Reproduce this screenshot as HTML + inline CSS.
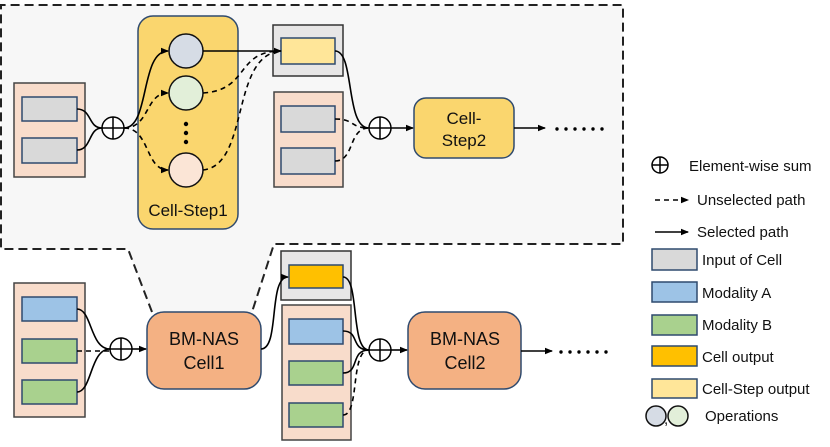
<!DOCTYPE html>
<html><head><meta charset="utf-8"><style>
html,body{margin:0;padding:0;background:#fff;}
svg{display:block;}
text{font-family:"Liberation Sans",sans-serif;fill:#111;}
</style></head><body>
<svg width="830" height="447" viewBox="0 0 830 447" xmlns="http://www.w3.org/2000/svg">
<defs>
<marker id="a" markerWidth="8" markerHeight="8" refX="7" refY="4" orient="auto" markerUnits="userSpaceOnUse">
<path d="M0,0.8 L8,4 L0,7.2 z" fill="#000"/></marker>
</defs>
<polygon points="1,5 623,5 623,244 274,244 252,312 152,312 128,249 1,249" fill="#f7f7f7" stroke="none"/>
<polyline points="152,312 128,249 1,249 1,5 623,5 623,244 274,244 252,312" fill="none" stroke="#222" stroke-width="2" stroke-dasharray="9,5"/>

<g stroke-width="1.5">
<rect x="14" y="83" width="71" height="94" fill="#f8dccb" stroke="#444"/>
<rect x="22" y="97" width="55" height="24" fill="#d9d9d9" stroke="#2f4a6e"/>
<rect x="22" y="138" width="55" height="25" fill="#d9d9d9" stroke="#2f4a6e"/>
<rect x="138" y="16" width="100" height="213" rx="15" fill="#fad66e" stroke="#2f4a6e"/>
<circle cx="186" cy="51" r="17" fill="#d6dce5" stroke="#111"/>
<circle cx="186" cy="93" r="17" fill="#e2efd9" stroke="#111"/>
<circle cx="186" cy="170" r="17" fill="#fbe5d6" stroke="#111"/>
<rect x="273" y="25" width="70" height="51" fill="#e7e6e6" stroke="#333"/>
<rect x="281" y="38" width="54" height="26" fill="#ffe699" stroke="#2f4a6e"/>
<rect x="274" y="92" width="69" height="95" fill="#f8dccb" stroke="#444"/>
<rect x="281" y="106" width="54" height="26" fill="#d9d9d9" stroke="#2f4a6e"/>
<rect x="281" y="148" width="54" height="26" fill="#d9d9d9" stroke="#2f4a6e"/>
<rect x="414" y="98" width="100" height="60" rx="12" fill="#fad66e" stroke="#2f4a6e"/>

<rect x="14" y="283" width="71" height="134" fill="#f8dccb" stroke="#444"/>
<rect x="22" y="297" width="55" height="24" fill="#9dc3e6" stroke="#2f4a6e"/>
<rect x="22" y="339" width="55" height="24" fill="#a9d18e" stroke="#2f4a6e"/>
<rect x="22" y="380" width="55" height="24" fill="#a9d18e" stroke="#2f4a6e"/>
<rect x="147" y="312" width="114" height="77" rx="17" fill="#f4b183" stroke="#2f4a6e"/>
<rect x="281" y="251" width="70" height="49" fill="#e7e6e6" stroke="#333"/>
<rect x="289" y="265" width="54" height="23" fill="#ffc000" stroke="#2f4a6e"/>
<rect x="282" y="305" width="69" height="135" fill="#f8dccb" stroke="#444"/>
<rect x="289" y="319" width="54" height="25" fill="#9dc3e6" stroke="#2f4a6e"/>
<rect x="289" y="361" width="54" height="24" fill="#a9d18e" stroke="#2f4a6e"/>
<rect x="289" y="403" width="54" height="24" fill="#a9d18e" stroke="#2f4a6e"/>
<rect x="408" y="312" width="113" height="77" rx="17" fill="#f4b183" stroke="#2f4a6e"/>

<rect x="652" y="249" width="45" height="21" fill="#d9d9d9" stroke="#2f4a6e"/>
<rect x="652" y="282" width="45" height="20" fill="#9dc3e6" stroke="#2f4a6e"/>
<rect x="652" y="315" width="45" height="20" fill="#a9d18e" stroke="#2f4a6e"/>
<rect x="652" y="346" width="45" height="20" fill="#ffc000" stroke="#2f4a6e"/>
<rect x="652" y="379" width="45" height="19" fill="#ffe699" stroke="#2f4a6e"/>
<circle cx="656" cy="416" r="10" fill="#d6dce5" stroke="#111"/>
<circle cx="678" cy="416" r="10" fill="#e2efd9" stroke="#111"/>
</g>

<g fill="none" stroke="#000" stroke-width="1.6">
<path d="M77,109 C92,109 88,128 102,128"/>
<path d="M77,150 C92,150 88,128 102,128"/>
<path d="M124,128 C150,128 140,51 168,51" marker-end="url(#a)"/>
<path d="M203,51 L281,51" marker-end="url(#a)"/>
<path d="M335,51 C355,51 345,128 369,128"/>
<path d="M391,128 L413,128" marker-end="url(#a)"/>
<path d="M514,128 L545,128" marker-end="url(#a)"/>
<path d="M77,309 C92,309 90,349 110,349"/>
<path d="M77,392 C92,392 90,349 110,349"/>
<path d="M132,349 L146,349" marker-end="url(#a)"/>
<path d="M261,349 C280,349 268,277 288,277" marker-end="url(#a)"/>
<path d="M343,277 C360,277 350,350 369,350"/>
<path d="M343,331 C360,331 350,350 369,350"/>
<path d="M343,373 C360,373 350,350 369,350"/>
<path d="M391,350 L407,350" marker-end="url(#a)"/>
<path d="M521,351 L552,351" marker-end="url(#a)"/>
<path d="M655,232 L688,232" marker-end="url(#a)"/>
</g>
<g fill="none" stroke="#000" stroke-width="1.6" stroke-dasharray="5,4">
<path d="M124,128 C150,128 145,93 168,93" marker-end="url(#a)"/>
<path d="M124,128 C150,128 145,170 168,170" marker-end="url(#a)"/>
<path d="M203,93 C250,90 235,51 281,51"/>
<path d="M203,170 C250,165 230,55 281,51"/>
<path d="M335,119 C355,119 350,128 369,128"/>
<path d="M335,161 C355,161 348,128 369,128"/>
<path d="M77,351 L110,351"/>
<path d="M343,415 C360,415 350,350 369,350"/>
<path d="M655,200 L688,200" marker-end="url(#a)"/>
</g>

<g fill="#fff" stroke="#000" stroke-width="1.5">
<circle cx="113" cy="128" r="11"/><path d="M102,128h22M113,117v22"/>
<circle cx="380" cy="128" r="11"/><path d="M369,128h22M380,117v22"/>
<circle cx="121" cy="349" r="11"/><path d="M110,349h22M121,338v22"/>
<circle cx="380" cy="350" r="11"/><path d="M369,350h22M380,339v22"/>
<circle cx="660" cy="165" r="8"/><path d="M652,165h16M660,157v16"/>
</g>
<g fill="#000">
<circle cx="186" cy="124" r="2.2"/><circle cx="186" cy="133" r="2.2"/><circle cx="186" cy="142" r="2.2"/>
<circle cx="557" cy="129" r="1.7"/><circle cx="566" cy="129" r="1.7"/><circle cx="575" cy="129" r="1.7"/><circle cx="584" cy="129" r="1.7"/><circle cx="593" cy="129" r="1.7"/><circle cx="602" cy="129" r="1.7"/>
<circle cx="561" cy="352" r="1.7"/><circle cx="570" cy="352" r="1.7"/><circle cx="579" cy="352" r="1.7"/><circle cx="588" cy="352" r="1.7"/><circle cx="597" cy="352" r="1.7"/><circle cx="606" cy="352" r="1.7"/>
</g>

<g font-size="17" text-anchor="middle">
<text x="188" y="216">Cell-Step1</text>
<text x="464" y="124">Cell-</text>
<text x="464" y="146">Step2</text>
<text x="204" y="345" font-size="18">BM-NAS</text>
<text x="204" y="369" font-size="18">Cell1</text>
<text x="465" y="345" font-size="18">BM-NAS</text>
<text x="465" y="369" font-size="18">Cell2</text>
</g>
<g font-size="15">
<text x="689" y="171">Element-wise sum</text>
<text x="697" y="205">Unselected path</text>
<text x="697" y="237">Selected path</text>
<text x="702" y="265">Input of Cell</text>
<text x="702" y="298">Modality A</text>
<text x="702" y="330">Modality B</text>
<text x="702" y="362">Cell output</text>
<text x="702" y="394">Cell-Step output</text>
<text x="664" y="424">,</text>
<text x="705" y="421">Operations</text>
</g>
</svg>
</body></html>
